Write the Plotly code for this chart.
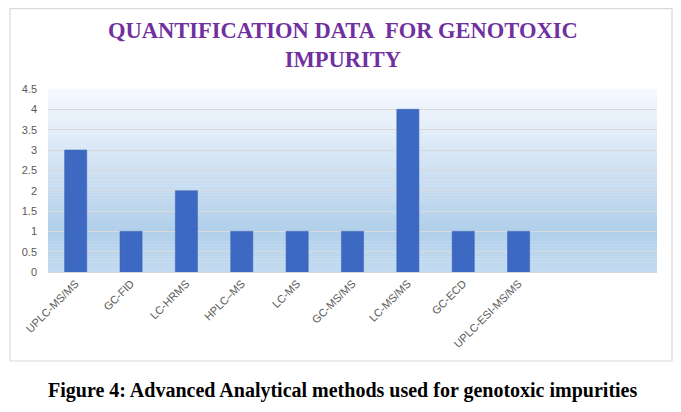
import plotly.graph_objects as go

# datos del grafico
metodos = ["UPLC-MS/MS", "GC-FID", "LC-HRMS", "HPLC\u2013MS", "LC-MS",
           "GC-MS/MS", "LC-MS/MS", "GC-ECD", "UPLC-ESI-MS/MS"]
valores = [3, 1, 2, 1, 1, 1, 4, 1, 1]
y_ticks = [0, 0.5, 1, 1.5, 2, 2.5, 3, 3.5, 4, 4.5]
y_labels = ["0", "0.5", "1", "1.5", "2", "2.5", "3", "3.5", "4", "4.5"]

# la pagina tiene 8px de margen en el body, se descuenta aqui
OFF = 8
W, H = 681 - OFF, 412 - OFF
ML, MT = 48 - OFF, 89 - OFF          # area del grafico 48..657 x 89..272 en pantalla
MR = W - (657 - OFF)
MB = H - (272 - OFF)

fig = go.Figure()
fig.add_trace(go.Bar(
    x=metodos, y=valores,
    marker=dict(color="#3d69c3", line=dict(color="#3560b8", width=0.5)),
    width=0.4,
))

# fondo degradado (franjas bajo la rejilla)
def mezcla(c1, c2, t):
    a = [int(c1[i:i + 2], 16) for i in (1, 3, 5)]
    b = [int(c2[i:i + 2], 16) for i in (1, 3, 5)]
    return "rgb(%d,%d,%d)" % tuple(round(a[k] + (b[k] - a[k]) * t) for k in range(3))

paradas = [(0.0, "#c4dbf0"), (0.22, "#b1cfea"), (1.0, "#f6f9fe")]
n = 60
shapes = []
for i in range(n):
    p = (i + 0.5) / n
    for j in range(len(paradas) - 1):
        if paradas[j][0] <= p <= paradas[j + 1][0]:
            t = (p - paradas[j][0]) / (paradas[j + 1][0] - paradas[j][0])
            col = mezcla(paradas[j][1], paradas[j + 1][1], t)
    shapes.append(dict(type="rect", xref="x domain", yref="y domain",
                       x0=0, x1=1, y0=i / n, y1=(i + 1) / n + 0.002,
                       fillcolor=col, line=dict(width=0), layer="below"))

# marco exterior (coordenadas de pantalla)
pw, ph = W - ML - MR, H - MT - MB

def px_x(v):
    return (v - OFF - ML) / pw

def px_y(v):
    return (H - MB - (v - OFF)) / ph

shapes.append(dict(type="rect", xref="paper", yref="paper",
                   x0=px_x(10), x1=px_x(672), y0=px_y(361), y1=px_y(8.7),
                   line=dict(color="#d9d9d9", width=1.2), fillcolor="rgba(0,0,0,0)",
                   layer="below"))

fig.update_layout(
    width=W, height=H,
    margin=dict(l=ML, r=MR, t=MT, b=MB),
    paper_bgcolor="white", plot_bgcolor="rgba(0,0,0,0)",
    showlegend=False,
    shapes=shapes,
    font=dict(family="Liberation Sans", color="#595959", size=11),
    annotations=[
        dict(text="<b>QUANTIFICATION DATA  FOR GENOTOXIC<br>IMPURITY</b>",
             xref="paper", yref="paper",
             x=px_x(343), y=px_y(45),
             xanchor="center", yanchor="middle", showarrow=False,
             font=dict(family="Liberation Serif", size=22.5, color="#7030a0")),
        dict(text="<b>Figure 4: Advanced Analytical methods used for genotoxic impurities</b>",
             xref="paper", yref="paper",
             x=px_x(342), y=px_y(390),
             xanchor="center", yanchor="middle", showarrow=False,
             font=dict(family="Liberation Serif", size=20, color="black")),
    ],
)
fig.update_xaxes(range=[-0.5, 10.5], tickangle=-45, showgrid=False,
                 showline=True, linecolor="#d9d9d9", ticks="",
                 tickfont=dict(size=11, color="#595959"))
fig.update_yaxes(range=[0, 4.5], tickvals=y_ticks, ticktext=y_labels,
                 showgrid=True, gridcolor="#d9d9d9", gridwidth=1,
                 zeroline=False, ticks="", ticklabelstandoff=10,
                 tickfont=dict(size=11, color="#595959"))

fig.write_html("out.html")
